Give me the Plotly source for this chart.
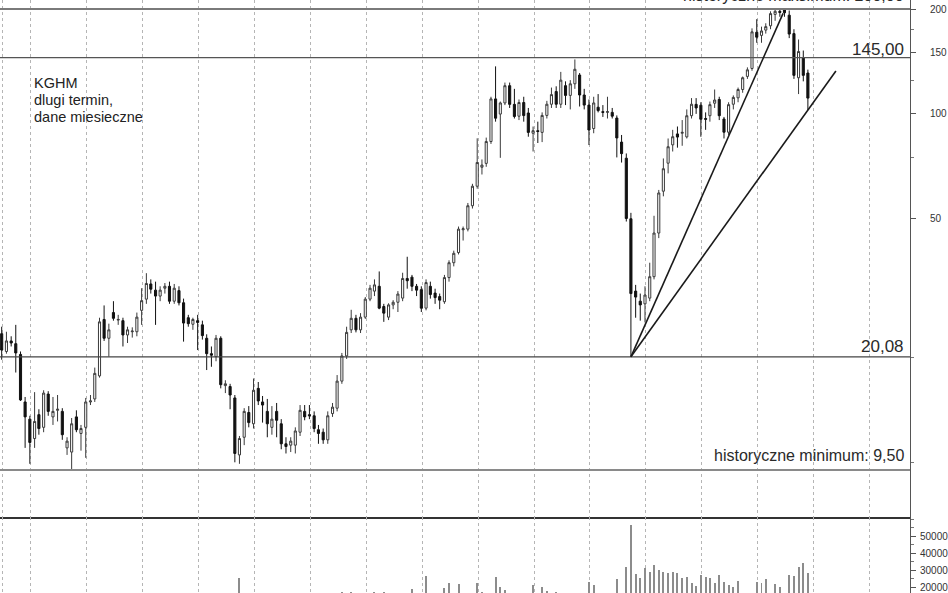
import numpy as np
import pandas as pd
import plotly.graph_objects as go
from plotly.subplots import make_subplots

# ---------------- data (monthly, KGHM, Jul 1997 - Dec 2011) ----------------
months = pd.date_range("1997-07-01", periods=174, freq="MS")

opens = [23.4, 20.8, 22.3, 21.9, 20.4, 14.9, 13.3, 11.7, 13.7, 12.6, 15.7, 13.5,
         14.1, 14.0, 11.0, 10.7, 13.5, 12.1, 12.6, 14.9, 15.2, 17.7, 25.7, 22.7,
         26.9, 25.6, 25.5, 23.2, 23.7, 23.7, 27.3, 29.4, 32.5, 31.2, 30.0, 31.6,
         32.0, 29.0, 31.1, 28.7, 26.0, 24.9, 25.5, 24.8, 22.7, 20.5, 20.1, 22.7,
         16.6, 16.5, 15.3, 10.5, 11.8, 13.9, 12.9, 16.3, 14.9, 14.0, 12.6, 14.0,
         12.9, 11.3, 11.2, 11.2, 12.2, 14.0, 13.7, 13.6, 12.4, 12.2, 11.6, 13.8,
         14.3, 17.1, 20.2, 24.0, 25.9, 24.0, 26.1, 29.4, 31.0, 32.0, 28.0, 26.1,
         28.3, 28.8, 29.6, 33.7, 34.0, 32.0, 31.3, 27.7, 32.0, 30.6, 29.9, 28.9,
         33.9, 37.4, 40.0, 46.5, 46.7, 54.5, 62.0, 70.3, 72.1, 83.3, 110.4, 99.9,
         107.5, 120.5, 106.5, 98.5, 107.8, 100.6, 88.0, 89.5, 88.5, 99.0, 106.6, 115.9,
         106.6, 120.5, 113.0, 122.0, 129.3, 113.3, 106.0, 90.8, 104.5, 101.5, 101.0, 101.0,
         97.3, 83.0, 74.6, 50.0, 31.0, 29.0, 28.5, 29.6, 34.1, 45.5, 60.0, 72.2,
         81.5, 87.6, 88.0, 85.9, 98.8, 106.5, 105.9, 97.0, 98.8, 107.3, 110.0, 96.7,
         88.6, 106.6, 111.2, 117.5, 128.1, 135.0, 171.5, 168.0, 174.0, 179.0, 193.0, 197.0,
         199.0, 192.0, 170.0, 127.0, 145.0, 131.0]
highs = [24.5, 23.7, 23.0, 24.8, 20.8, 15.4, 13.6, 15.9, 14.2, 16.1, 16.0, 15.4,
         15.6, 14.3, 11.8, 13.4, 14.1, 12.8, 15.3, 15.6, 18.7, 26.0, 28.2, 25.0,
         29.0, 26.5, 26.0, 24.5, 24.4, 26.9, 31.6, 34.9, 33.5, 33.0, 32.0, 32.7,
         33.0, 32.5, 32.0, 29.5, 26.5, 26.0, 26.5, 25.5, 23.3, 21.5, 23.2, 23.0,
         17.2, 16.8, 15.6, 11.9, 14.3, 14.5, 17.4, 17.0, 15.5, 15.2, 14.5, 14.8,
         13.3, 11.8, 11.8, 12.6, 14.6, 14.6, 14.6, 14.0, 12.8, 12.5, 14.0, 14.8,
         17.8, 20.6, 24.5, 27.4, 26.5, 26.8, 29.8, 32.3, 33.5, 35.3, 28.5, 28.6,
         29.2, 31.0, 35.0, 38.9, 34.5, 32.5, 32.0, 33.5, 33.0, 31.5, 30.5, 34.5,
         38.0, 40.5, 47.5, 47.5, 55.5, 63.0, 85.1, 74.0, 85.5, 112.0, 136.9, 108.5,
         123.0, 123.0, 118.0, 110.0, 112.0, 104.0, 92.0, 95.0, 101.0, 109.0, 119.0, 120.0,
         132.0, 124.0, 125.0, 143.3, 131.0, 118.0, 110.0, 112.0, 114.0, 106.0, 112.0, 104.0,
         99.0, 87.0, 77.0, 52.0, 32.3, 30.5, 32.0, 37.4, 51.0, 60.5, 74.5, 85.0,
         90.0, 92.0, 96.0, 103.0, 111.0, 111.0, 108.0, 101.0, 108.5, 117.5, 112.0, 98.0,
         108.0, 113.0, 119.0, 128.0, 136.0, 176.0, 187.0, 178.0, 182.0, 197.0, 199.5, 199.0,
         200.0, 198.0, 175.0, 163.5, 152.0, 134.0]
lows = [19.7, 20.5, 21.5, 18.1, 15.0, 11.0, 9.9, 11.0, 12.0, 12.2, 13.6, 12.8,
        13.1, 11.6, 10.5, 9.5, 12.2, 10.8, 10.3, 14.6, 14.9, 17.5, 22.3, 20.1,
        25.5, 24.8, 21.5, 22.0, 22.8, 23.0, 24.8, 28.5, 30.5, 24.8, 29.0, 30.5,
        28.5, 28.5, 28.2, 22.2, 24.5, 24.0, 21.0, 22.5, 18.4, 18.8, 19.5, 16.3,
        15.8, 14.2, 10.0, 9.9, 11.2, 12.6, 12.5, 14.6, 13.0, 11.8, 12.0, 11.8,
        10.9, 10.6, 10.7, 10.6, 11.9, 13.2, 13.3, 12.2, 11.3, 11.3, 11.3, 13.5,
        14.0, 16.8, 19.8, 23.5, 23.6, 23.5, 25.8, 29.0, 30.0, 27.5, 25.3, 25.6,
        27.5, 27.0, 29.0, 31.5, 31.0, 30.0, 27.0, 27.3, 29.5, 28.5, 27.5, 28.5,
        33.0, 36.5, 39.5, 43.3, 46.0, 53.5, 61.0, 67.0, 70.5, 82.0, 95.0, 74.8,
        106.0, 104.0, 97.0, 96.0, 95.0, 86.0, 78.0, 82.5, 83.0, 97.0, 104.0, 104.0,
        104.0, 106.0, 103.0, 118.0, 105.0, 103.0, 81.4, 88.0, 101.0, 98.0, 97.0, 97.0,
        75.0, 72.5, 49.1, 20.08, 26.0, 25.5, 25.2, 29.0, 33.5, 44.0, 58.0, 67.5,
        78.0, 80.0, 81.0, 85.0, 97.0, 100.0, 86.0, 90.0, 95.0, 104.0, 96.0, 85.0,
        87.0, 103.0, 108.0, 115.0, 126.0, 133.0, 160.0, 160.0, 170.0, 175.0, 185.0, 190.0,
        190.0, 165.0, 126.0, 114.0, 124.0, 102.6]
closes = [21.0, 22.3, 22.0, 20.6, 15.1, 13.5, 11.4, 13.1, 12.5, 15.8, 14.0, 14.0,
          14.2, 12.0, 11.5, 12.9, 12.4, 12.5, 14.9, 15.0, 18.0, 25.3, 22.7, 24.0,
          25.9, 25.7, 23.2, 24.0, 23.8, 26.1, 29.1, 32.6, 31.4, 30.0, 31.2, 32.0,
          29.0, 31.6, 28.7, 25.1, 25.0, 25.7, 25.2, 23.1, 20.5, 20.3, 22.7, 16.7,
          16.8, 15.6, 10.6, 11.7, 14.0, 13.0, 16.1, 15.0, 14.6, 12.9, 13.3, 13.2,
          11.3, 11.1, 11.5, 12.3, 14.1, 13.5, 13.6, 12.5, 12.1, 11.6, 13.6, 14.4,
          17.1, 20.2, 23.6, 25.9, 24.0, 26.1, 29.4, 31.6, 32.3, 27.7, 26.8, 28.3,
          28.8, 30.4, 33.7, 33.2, 32.0, 31.2, 27.7, 32.8, 30.3, 29.7, 29.2, 33.9,
          37.4, 39.8, 46.7, 46.8, 54.5, 62.0, 72.5, 71.3, 83.3, 110.4, 97.2, 107.5,
          120.5, 106.5, 98.3, 107.8, 98.9, 88.5, 89.5, 89.0, 99.0, 106.6, 113.6, 106.6,
          125.0, 113.0, 122.0, 134.3, 113.3, 106.0, 89.9, 107.5, 102.2, 101.0, 101.5, 98.5,
          85.3, 76.9, 50.1, 30.5, 29.8, 28.3, 30.2, 34.1, 45.5, 59.3, 69.6, 80.5,
          86.0, 85.8, 88.5, 98.8, 106.6, 104.0, 96.5, 96.5, 106.3, 109.6, 98.8, 88.6,
          106.3, 111.5, 117.5, 127.0, 133.8, 172.0, 166.0, 173.0, 178.0, 194.0, 197.0, 195.5,
          195.0, 169.5, 129.0, 151.0, 129.0, 111.0]
volumes = [9000, 6500, 5200, 7800, 11500, 12800, 14200, 10500, 8600, 9800, 8200, 7400,
           6900, 8800, 9600, 10200, 7900, 6800, 9400, 7200, 11800, 15200, 13600, 9900,
           11200, 8700, 10400, 7600, 6900, 8300, 12400, 14800, 10600, 11900, 8400, 9100,
           10300, 8900, 9700, 12800, 7800, 6600, 8800, 9300, 11600, 8400, 9900, 13800,
           9600, 11200, 15900, 25100, 14600, 10800, 13400, 11700, 9800, 10900, 8700, 9600,
           11400, 9200, 8600, 10100, 12300, 9400, 8800, 9900, 10600, 11800, 12900, 13700,
           15800, 17200, 14900, 17200, 15600, 14200, 13800, 15400, 17000, 14800, 17000, 13900,
           12800, 14600, 15900, 13300, 18800, 14400, 15100, 26500, 15700, 13600, 14900, 19400,
           22500, 16200, 21800, 15300, 14700, 16100, 22500, 17000, 15800, 16200, 25700, 20000,
           18000, 15900, 14400, 16100, 13800, 15200, 21200, 14700, 20200, 17800, 15300, 17000,
           14900, 16000, 13600, 15100, 14200, 15800, 23100, 21200, 15400, 14300, 15600, 16100,
           24500, 15800, 32000, 56500, 27600, 25100, 31000, 29000, 33000, 30000, 29000, 28400,
           29000, 28400, 25100, 26000, 22200, 20600, 27000, 26000, 25100, 22200, 27000, 23100,
           21200, 20200, 23700, 15800, 14900, 16100, 23100, 22200, 24500, 16200, 21800, 20200,
           16000, 27000, 26500, 32000, 34000, 28000]

# reference levels
level_values = [200.0, 145.0, 20.08, 9.50]
level_labels = ["historyczne maksimum: 200,00", "145,00", "20,08", "historyczne minimum: 9,50"]

# trend lines from the October 2008 low
trend1_x = ["2008-10-01", "2011-06-22"]
trend1_y = [20.08, 194.4]
trend2_x = ["2008-10-01", "2012-06-01"]
trend2_y = [20.08, 132.8]

price_ticks = [50, 100, 150, 200]
volume_ticks = [20000, 30000, 40000, 50000]

# ---------------- figure ----------------
W, H = 948, 593
price_h = 517
fig = make_subplots(rows=2, cols=1, shared_xaxes=True, vertical_spacing=0,
                    row_heights=[price_h, H - price_h])

fig.add_trace(go.Candlestick(
    x=months, open=opens, high=highs, low=lows, close=closes,
    increasing=dict(line=dict(color="#3a3a3a", width=1), fillcolor="#ffffff"),
    decreasing=dict(line=dict(color="#111111", width=1), fillcolor="#111111"),
    whiskerwidth=0, showlegend=False, hoverinfo="skip"), row=1, col=1)

x_start = pd.Timestamp("1997-06-20")
x_end = pd.Timestamp("2013-09-28")

# horizontal levels
lvl_styles = [("#7a7a7a", 2), ("#555555", 1.2), ("#444444", 1.2), ("#8a8a8a", 2)]
for v, (c, w) in zip(level_values, lvl_styles):
    fig.add_trace(go.Scatter(x=[x_start, x_end], y=[v, v], mode="lines",
                             line=dict(color=c, width=w), showlegend=False,
                             hoverinfo="skip", cliponaxis=True), row=1, col=1)

for tx, ty in [(trend1_x, trend1_y), (trend2_x, trend2_y)]:
    fig.add_trace(go.Scatter(x=tx, y=ty, mode="lines",
                             line=dict(color="#1a1a1a", width=1.6),
                             showlegend=False, hoverinfo="skip"), row=1, col=1)

fig.add_trace(go.Bar(x=months, y=volumes, width=6.5 * 86400000,
                     marker=dict(color="#8c8c8c", line=dict(width=0)),
                     showlegend=False, hoverinfo="skip"), row=2, col=1)

# vertical (yearly) grid lines
grid_dates = [pd.Timestamp("1997-07-07")] + [pd.Timestamp(f"{y}-01-07") for y in range(1998, 2014)]

xcommon = dict(type="date", range=[x_start, x_end], showgrid=True, tickmode="array",
               tickvals=grid_dates, showticklabels=False, ticks="",
               gridcolor="#b5b5b5", gridwidth=1, griddash="3px,3px",
               zeroline=False, rangeslider=dict(visible=False))
fig.update_xaxes(**xcommon)
fig.update_xaxes(showline=True, linecolor="#333333", linewidth=1.5, row=1, col=1)
fig.update_xaxes(showline=False, row=2, col=1)

font_fam = "Liberation Sans, Arial, sans-serif"
fig.update_yaxes(type="log", range=[0.8430, 2.3269], side="right", tickmode="array",
                 tickvals=price_ticks, ticktext=[str(t) for t in price_ticks],
                 ticks="outside", ticklen=5, tickcolor="#555", showline=True,
                 linecolor="#555", linewidth=1, showgrid=False, zeroline=False,
                 tickfont=dict(size=10, color="#333", family=font_fam),
                 ticklabelstandoff=12,
                 minor=dict(tickvals=[10, 20, 75, 125, 175], ticks="outside",
                            ticklen=3, tickcolor="#777", showgrid=False),
                 row=1, col=1)
fig.update_yaxes(range=[16471, 61176], side="right", tickmode="array",
                 tickvals=volume_ticks, ticktext=[str(t) for t in volume_ticks],
                 ticks="outside", ticklen=5, tickcolor="#555", showline=True,
                 linecolor="#555", linewidth=1, showgrid=False, zeroline=False,
                 tickfont=dict(size=10, color="#333", family=font_fam),
                 ticklabelstandoff=2,
                 minor=dict(tickvals=[25000, 35000, 45000, 55000, 60000], ticks="outside",
                            ticklen=3, tickcolor="#777", showgrid=False),
                 row=2, col=1)

plot_w = 910
def px_to_paper_y(py):
    return 1 - py / H

annots = []
lab_specs = [(level_labels[0], -4, 16), (level_labels[1], 50, 17),
             (level_labels[2], 347, 17), (level_labels[3], 456, 16)]
for txt, cy, fs in lab_specs:
    annots.append(dict(text=txt, xref="paper", yref="paper", x=906 / plot_w,
                       y=px_to_paper_y(cy), xanchor="right", yanchor="middle",
                       showarrow=False,
                       font=dict(size=fs, color="#2a2a2a", family=font_fam)))
for txt, cy in [("KGHM", 83), ("dlugi termin,", 100), ("dane miesieczne", 117)]:
    annots.append(dict(text=txt, xref="paper", yref="paper", x=32 / plot_w,
                       y=px_to_paper_y(cy), xanchor="left", yanchor="middle",
                       showarrow=False,
                       font=dict(size=14.5, color="#222", family=font_fam)))

fig.update_layout(width=W, height=H, margin=dict(l=0, r=W - plot_w, t=0, b=0),
                  paper_bgcolor="white", plot_bgcolor="white",
                  annotations=annots, showlegend=False, bargap=0,
                  font=dict(family=font_fam))

fig.write_html("out.html", config={"displayModeBar": False},
               post_script="document.body.style.margin='0';"
                           "document.body.style.overflow='hidden';")
